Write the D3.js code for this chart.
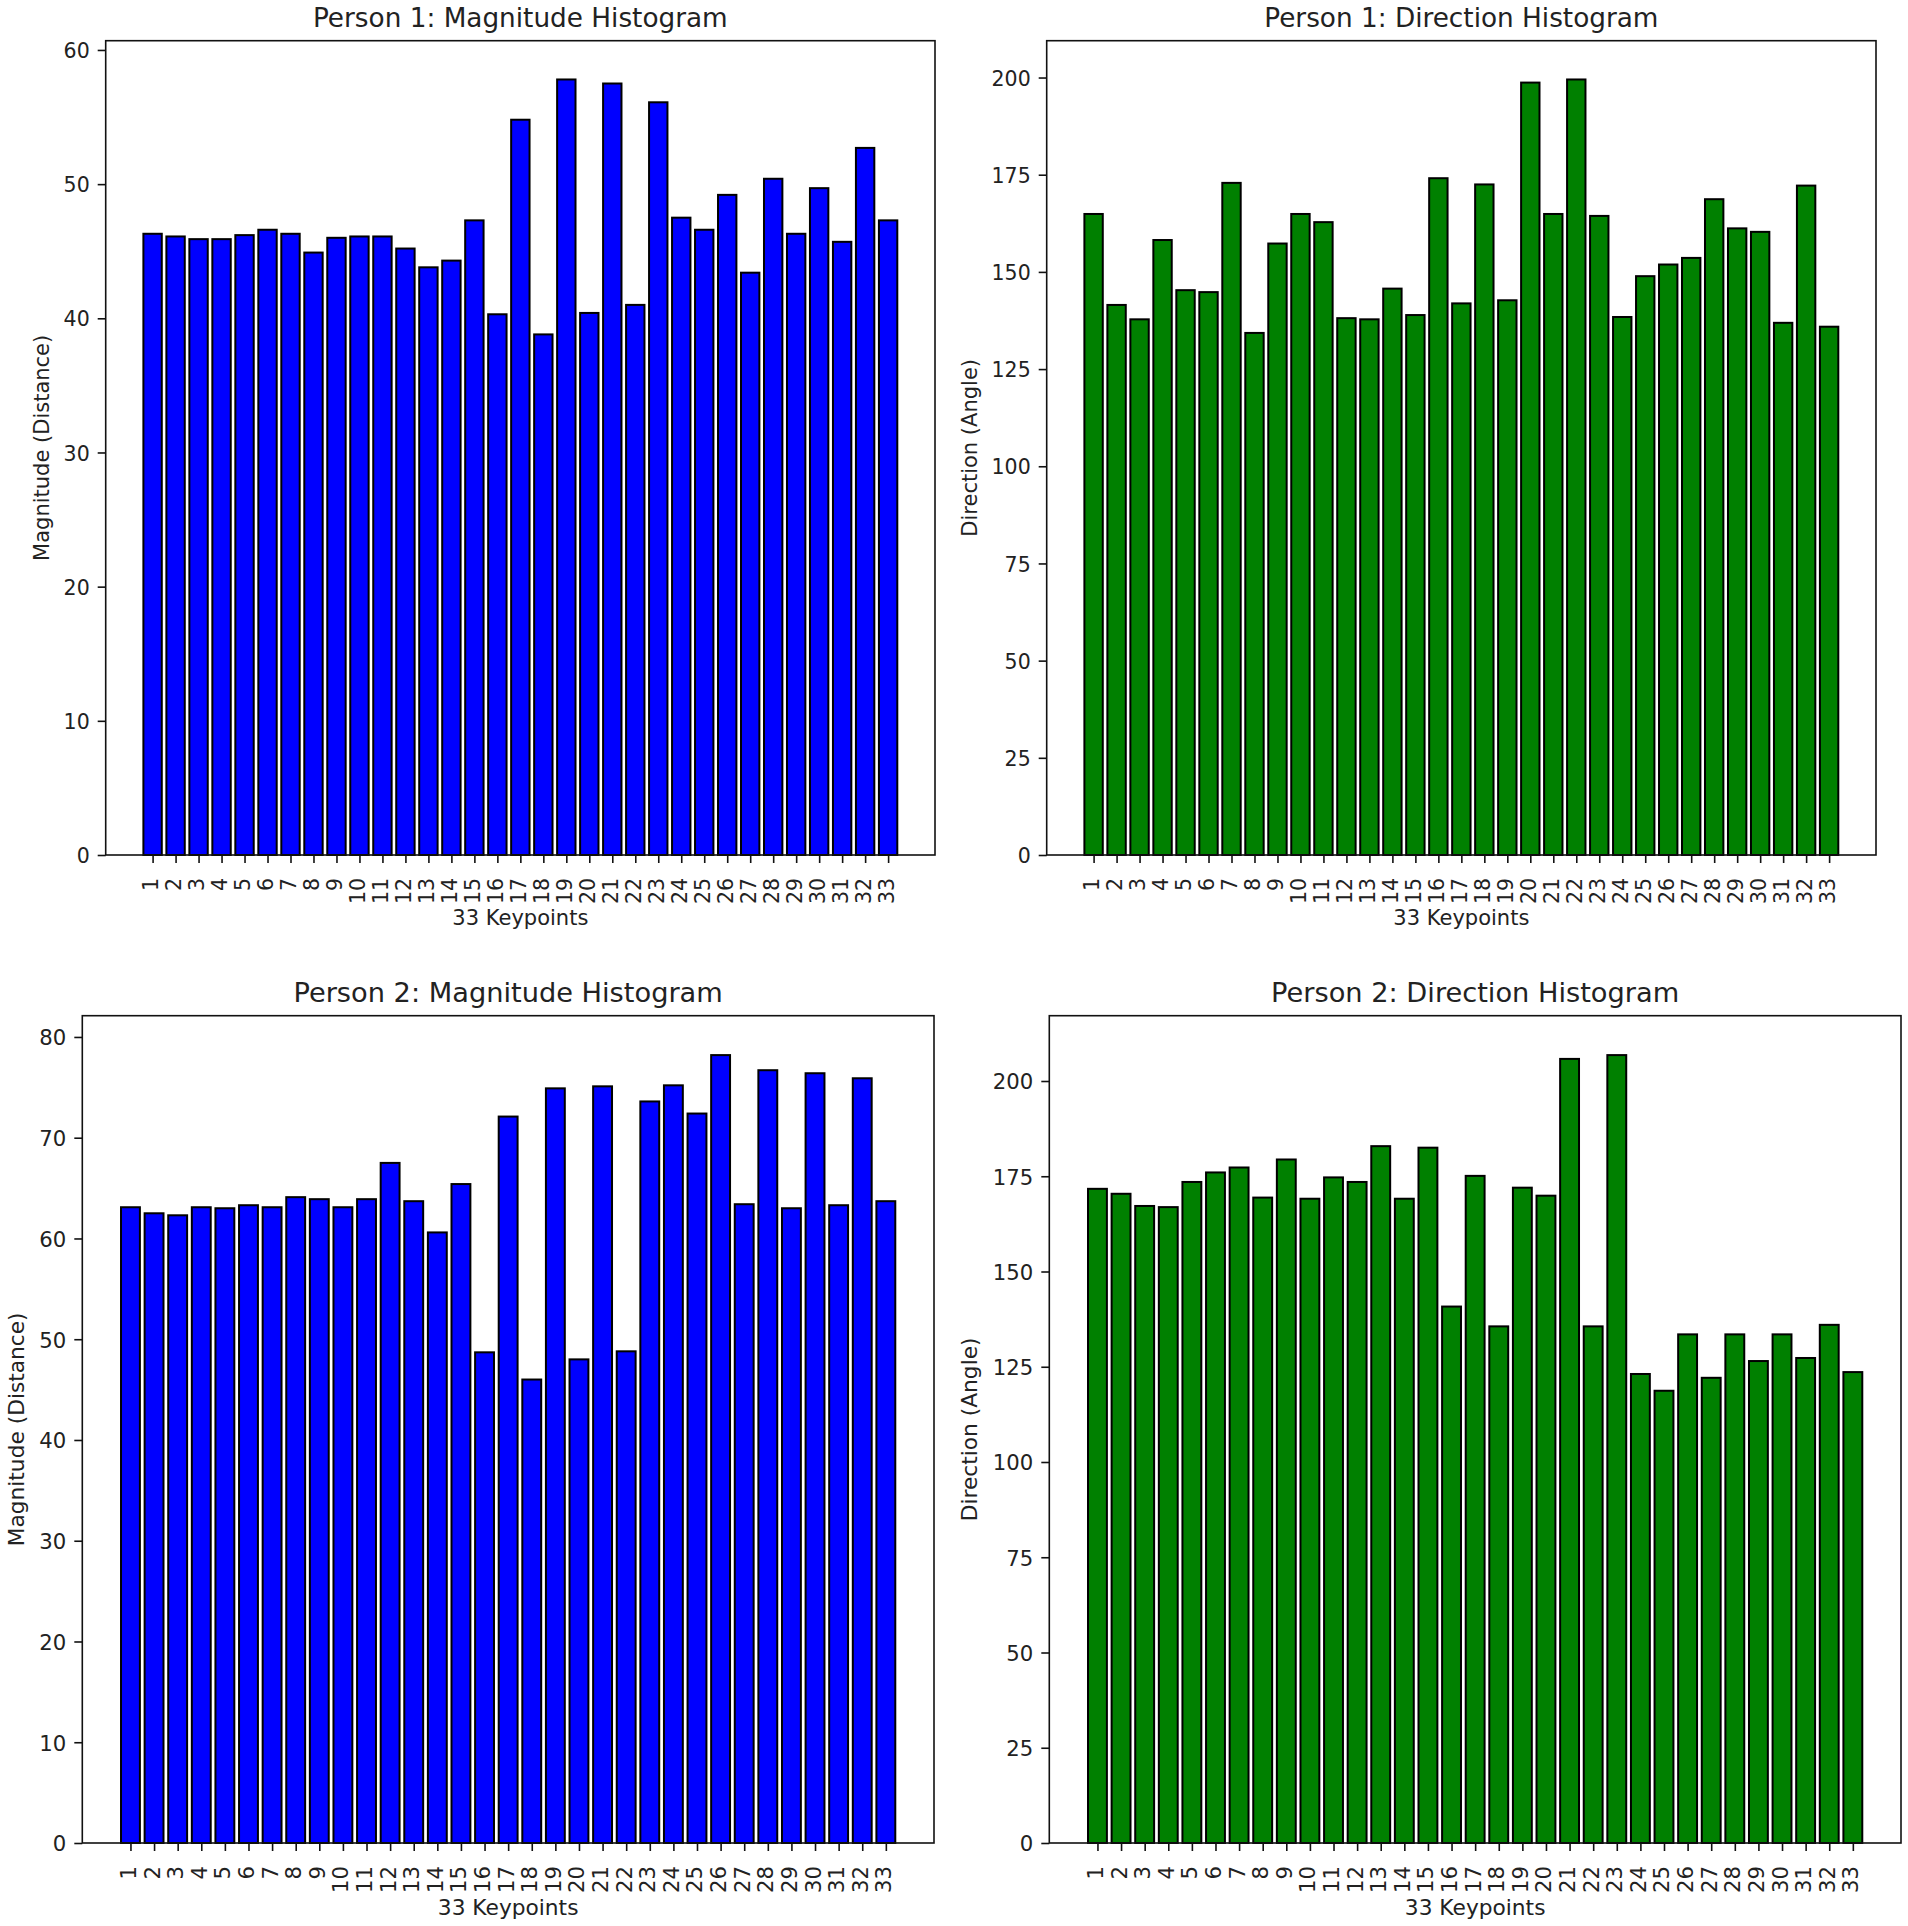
<!DOCTYPE html>
<meta charset="utf-8">
<style>
body { margin: 0; background: #fff; }
svg text { font-family: "DejaVu Sans", sans-serif; fill: #222; }
.bar { stroke: #000; stroke-width: 2; }
.frame { fill: none; stroke: #111; stroke-width: 1.6; }
.tick line { stroke: #111; stroke-width: 1.6; }
</style>
<body>
<div id="chart"></div>
<script src="https://d3js.org/d3.v7.min.js"></script>
<script>
// keypoint numbers on the x axis
var keypoints = [1, 2, 3, 4, 5, 6, 7, 8, 9, 10, 11, 12, 13, 14, 15, 16, 17,
                 18, 19, 20, 21, 22, 23, 24, 25, 26, 27, 28, 29, 30, 31, 32, 33];

// values
var p1Magnitude = [46.3, 46.1, 45.9, 45.9, 46.2, 46.6, 46.3, 44.9, 46.0, 46.1, 46.1,
                   45.2, 43.8, 44.3, 47.3, 40.3, 54.8, 38.8, 57.8, 40.4, 57.5, 41.0,
                   56.1, 47.5, 46.6, 49.2, 43.4, 50.4, 46.3, 49.7, 45.7, 52.7, 47.3];
var p1Direction = [164.9, 141.5, 137.8, 158.2, 145.3, 144.8, 172.9, 134.3, 157.3, 164.9, 162.8,
                   138.1, 137.8, 145.7, 138.9, 174.1, 141.9, 172.5, 142.7, 198.7, 164.9, 199.5,
                   164.4, 138.4, 148.9, 151.9, 153.6, 168.7, 161.2, 160.3, 136.9, 172.2, 135.9];
var p2Magnitude = [63.1, 62.5, 62.3, 63.1, 63.0, 63.3, 63.1, 64.1, 63.9, 63.1, 63.9,
                   67.5, 63.7, 60.6, 65.4, 48.7, 72.1, 46.0, 74.9, 48.0, 75.1, 48.8,
                   73.6, 75.2, 72.4, 78.2, 63.4, 76.7, 63.0, 76.4, 63.3, 75.9, 63.7];
var p2Direction = [171.7, 170.4, 167.2, 166.9, 173.5, 176.0, 177.3, 169.4, 179.4, 169.1, 174.7,
                   173.5, 182.9, 169.1, 182.5, 140.8, 175.1, 135.6, 172.0, 169.9, 205.8, 135.6,
                   206.8, 123.1, 118.7, 133.5, 122.1, 133.5, 126.5, 133.5, 127.3, 136.0, 123.6];

// y tick labels
var magTicks1 = [0, 10, 20, 30, 40, 50, 60];
var magTicks2 = [0, 10, 20, 30, 40, 50, 60, 70, 80];
var dirTicks = [0, 25, 50, 75, 100, 125, 150, 175, 200];

// k = text scale per panel (bottom row of the picture is a bit bigger)
var panels = [
    { title: "Person 1: Magnitude Histogram", ylabel: "Magnitude (Distance)", values: p1Magnitude,
      ticks: magTicks1, color: "#0000ff", k: 1.0, box: { x0: 105.7, x1: 935, y0: 40.7, y1: 855 } },
    { title: "Person 1: Direction Histogram", ylabel: "Direction (Angle)", values: p1Direction,
      ticks: dirTicks, color: "#008000", k: 1.0, box: { x0: 1046.7, x1: 1876, y0: 40.7, y1: 855 } },
    { title: "Person 2: Magnitude Histogram", ylabel: "Magnitude (Distance)", values: p2Magnitude,
      ticks: magTicks2, color: "#0000ff", k: 1.035, box: { x0: 82.3, x1: 934, y0: 1015.7, y1: 1843 } },
    { title: "Person 2: Direction Histogram", ylabel: "Direction (Angle)", values: p2Direction,
      ticks: dirTicks, color: "#008000", k: 1.035, box: { x0: 1049.3, x1: 1901, y0: 1015.7, y1: 1843 } }
];

var svg = d3.select("#chart").append("svg")
    .attr("width", 1908)
    .attr("height", 1926);

panels.forEach(function(p) {
    var b = p.box, k = p.k;
    // matplotlib-like limits: bars 0.8 wide, 5% margin
    var lo = keypoints[0] - 0.4, hi = keypoints[keypoints.length - 1] + 0.4;
    var pad = (hi - lo) * 0.05;
    var x = d3.scaleLinear().domain([lo - pad, hi + pad]).range([b.x0, b.x1]);
    var y = d3.scaleLinear().domain([0, d3.max(p.values) * 1.05]).range([b.y1, b.y0]);

    var g = svg.append("g");

    g.selectAll(".bar")
        .data(p.values)
      .enter().append("rect")
        .attr("class", "bar")
        .attr("fill", p.color)
        .attr("x", function(d, i) { return x(keypoints[i] - 0.4); })
        .attr("width", function(d, i) { return x(keypoints[i] + 0.4) - x(keypoints[i] - 0.4); })
        .attr("y", function(d) { return y(d); })
        .attr("height", function(d) { return y(0) - y(d); });

    var yAxis = g.append("g")
        .attr("transform", "translate(" + b.x0 + ",0)")
        .call(d3.axisLeft(y).tickValues(p.ticks).tickSize(8).tickPadding(8).tickFormat(d3.format("d")));
    yAxis.select(".domain").remove();
    yAxis.selectAll("text").attr("dy", "0.37em").style("font-size", (20.5 * k) + "px");

    var xAxis = g.append("g")
        .attr("transform", "translate(0," + b.y1 + ")")
        .call(d3.axisBottom(x).tickValues(keypoints).tickSize(8).tickFormat(d3.format("d")));
    xAxis.select(".domain").remove();
    xAxis.selectAll("text")
        .attr("y", null)
        .attr("dy", null)
        .attr("text-anchor", "end")
        .style("font-size", (20.5 * k) + "px")
        .attr("transform", "translate(5,23) rotate(-90)");

    g.append("rect")
        .attr("class", "frame")
        .attr("x", b.x0)
        .attr("y", b.y0)
        .attr("width", b.x1 - b.x0)
        .attr("height", b.y1 - b.y0);

    g.append("text")
        .attr("text-anchor", "middle")
        .style("font-size", (26.3 * k) + "px")
        .attr("x", (b.x0 + b.x1) / 2)
        .attr("y", b.y0 - 14)
        .text(p.title);

    g.append("text")
        .attr("text-anchor", "middle")
        .style("font-size", (21 * k) + "px")
        .attr("x", (b.x0 + b.x1) / 2)
        .attr("y", b.y1 + 70 * k)
        .text("33 Keypoints");

    var maxW = d3.max(yAxis.selectAll("text").nodes(), function(n) { return n.getComputedTextLength(); });
    var lx = b.x0 - 16 - maxW - 15 * k;
    g.append("text")
        .attr("text-anchor", "middle")
        .style("font-size", (21 * k) + "px")
        .attr("transform", "translate(" + lx + "," + ((b.y0 + b.y1) / 2) + ") rotate(-90)")
        .text(p.ylabel);
});
</script>
</body>
